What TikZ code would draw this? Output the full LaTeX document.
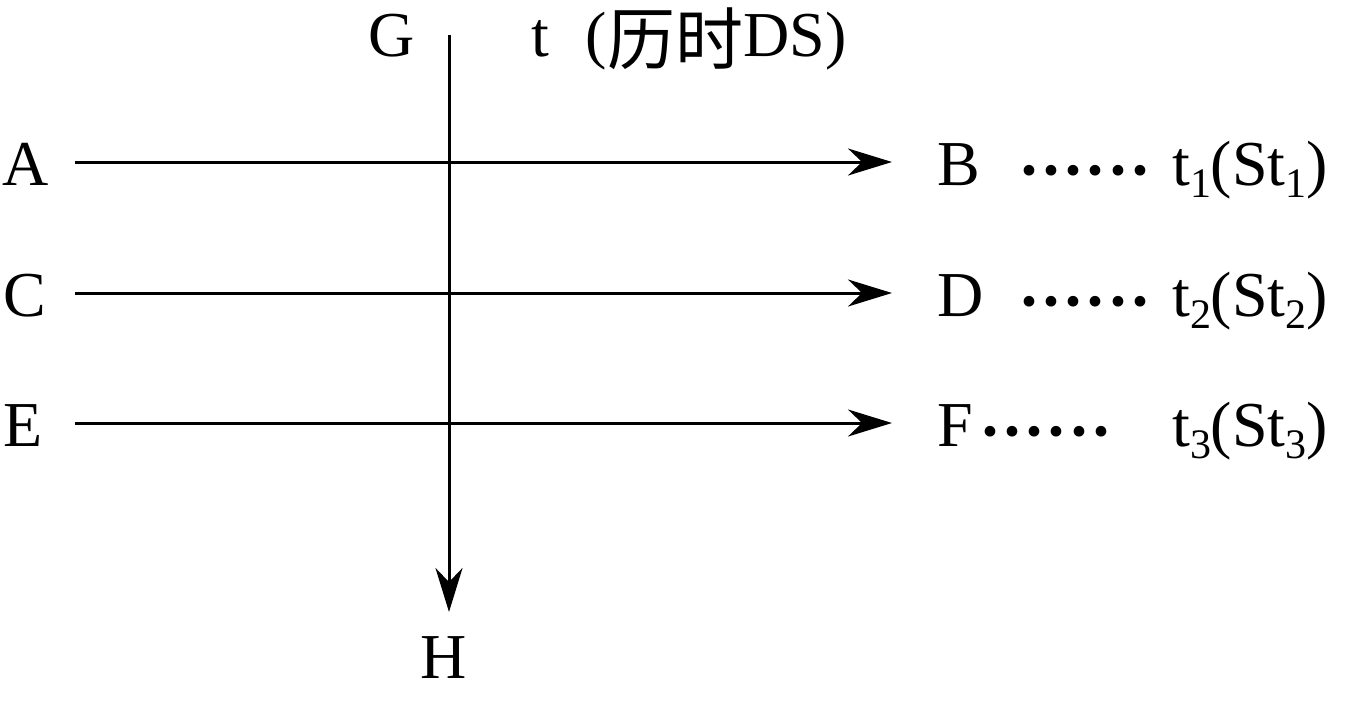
\documentclass[tikz,border=0pt]{standalone}
\usepackage{fontspec}
\setmainfont{Liberation Serif}
\newfontfamily\cjk{Noto Sans CJK SC}
\usetikzlibrary{arrows.meta}
\newcommand\lsub[1]{\raisebox{-0.2em}{\fontsize{42}{42}\selectfont #1}}
\newcommand\onedot{\makebox[22.2pt]{\fontsize{90}{90}\selectfont\textperiodcentered}}
\newcommand\sixdots{\raisebox{-15pt}{\onedot\onedot\onedot\onedot\onedot\onedot}}
\begin{document}
\begin{tikzpicture}[x=1pt,y=-1pt,
  lbl/.style={anchor=base west,inner sep=0pt,font=\fontsize{64}{70}\selectfont},
  axis/.style={line width=3pt,-{Stealth[length=44pt,width=27pt,inset=14pt]}}]
\useasboundingbox (0,0) rectangle (1364,710);
% left labels
\node[lbl] (A) at (2,185) {A};
\node[lbl] (C) at (3,316) {C};
\node[lbl] (E) at (3,446) {E};
% right labels
\node[lbl] (B) at (937,185) {B};
\node[lbl] (D) at (937,316) {D};
\node[lbl] (F) at (937,446) {F};
\node[lbl] (d1) at (1018,185) {\sixdots};
\node[lbl] (d2) at (1018,316) {\sixdots};
\node[lbl] (d3) at (979,446) {\sixdots};
\node[lbl] (t1) at (1172,185) {t\lsub{1}(St\lsub{1})};
\node[lbl] (t2) at (1172,316) {t\lsub{2}(St\lsub{2})};
\node[lbl] (t3) at (1172,446) {t\lsub{3}(St\lsub{3})};
% top and bottom
\node[lbl] (G) at (368,56) {G};
\node[lbl] (T) at (531,56) {t\hspace{37pt}(\raisebox{-8pt}{\cjk\fontsize{68}{70}\selectfont 历时}DS)};
\node[lbl] (H) at (420,678) {H};
% axis coordinates
\coordinate (vs) at (449,35);
\coordinate (ve) at (449,612);
\coordinate (as) at (75,162);
\coordinate (ae) at (892,162);
\coordinate (cs) at (75,293);
\coordinate (ce) at (892,293);
\coordinate (es) at (75,423);
\coordinate (ee) at (892,423);
\draw[axis] (vs) -- (ve);
\draw[axis] (as) -- (ae);
\draw[axis] (cs) -- (ce);
\draw[axis] (es) -- (ee);
\end{tikzpicture}
\end{document}
